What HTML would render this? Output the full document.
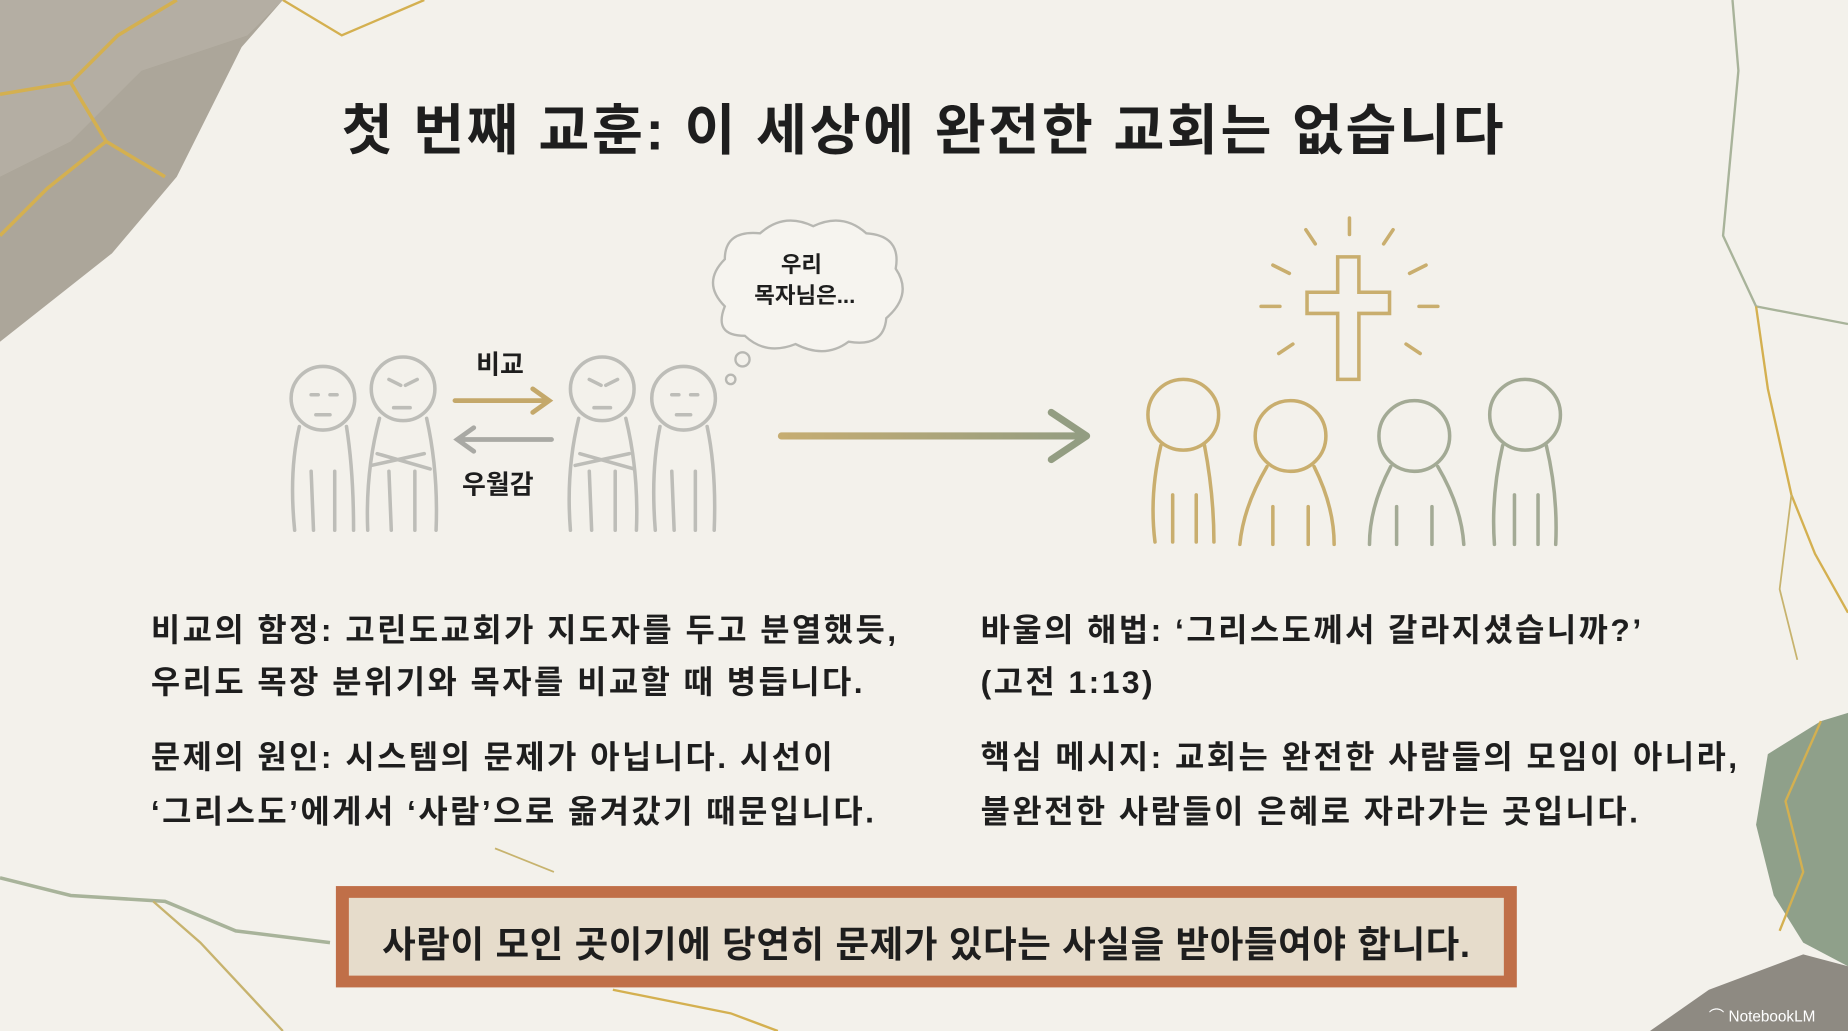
<!DOCTYPE html>
<html><head><meta charset="utf-8">
<style>
html,body{margin:0;padding:0;}
body{width:1848px;height:1031px;overflow:hidden;background:#f2f0ea;}
#s{position:absolute;left:0;top:0;width:1568px;height:875px;transform:scale(1.17857,1.17829);transform-origin:0 0;background:#f3f1eb;font-family:"Liberation Sans","Noto Sans CJK KR",sans-serif;color:#1e1e1e;}
.t{position:absolute;white-space:nowrap;}
</style></head><body>
<div id="s">
<svg width="1568" height="875" style="position:absolute;left:0;top:0">
 <polygon points="0,0 240,0 205,40 150,150 95,215 0,290" fill="#aca69a"/>
 <polygon points="0,0 240,0 210,30 120,60 60,120 0,150" fill="#b8b2a6" opacity="0.7"/>
 <path d="M0,80 L60,70 L100,30 L150,0 M60,70 L90,120 L140,150 M0,200 L40,160 L90,120" stroke="#d4b050" stroke-width="3" fill="none"/>
 <path d="M240,0 L290,30 L360,0" stroke="#d4b050" stroke-width="2" fill="none"/>
 <path d="M1470,0 L1475,60 L1462,200 L1490,260 L1568,275" stroke="#a8b39a" stroke-width="2" fill="none"/>
 <path d="M1490,260 L1500,330 L1520,420 L1540,470 L1568,520" stroke="#d4b050" stroke-width="2" fill="none"/>
 <path d="M1520,420 L1510,500 L1525,560" stroke="#c7b36e" stroke-width="1.5" fill="none"/>
 <path d="M0,745 L60,760 L140,765 L200,790 L280,800" stroke="#a8b39a" stroke-width="3" fill="none"/>
 <path d="M130,765 L170,800 L240,875" stroke="#c7b36e" stroke-width="2" fill="none"/>
 <path d="M520,840 L620,860 L660,875" stroke="#d4b050" stroke-width="2" fill="none"/>
 <path d="M420,720 L470,740" stroke="#c7b36e" stroke-width="1.5" fill="none"/>
 <polygon points="1500,640 1545,612 1568,605 1568,820 1530,800 1505,760 1490,700" fill="#8fa08a"/>
 <path d="M1545,612 L1515,680 L1530,740 L1510,790" stroke="#d4b050" stroke-width="2" fill="none"/>
 <polygon points="1400,875 1450,840 1530,810 1568,820 1568,875" fill="#8e8a82"/>
 <g stroke="#bdbdb8" stroke-width="3" fill="none" stroke-linecap="round">
  <circle cx="274" cy="338" r="27"/><path d="M254,362 Q245,400 250,450 M294,362 Q300,400 300,450 M264,400 L266,450 M284,400 L284,450"/>
  <path d="M264,335 h6 M280,335 h6 M268,352 h12"/>
  <circle cx="342" cy="330" r="27"/><path d="M322,355 Q310,400 312,450 M362,355 Q372,400 370,450 M330,400 L332,450 M352,400 L352,450 M315,395 L360,385 M320,385 L365,398"/>
  <path d="M330,322 l10,5 M354,322 l-10,5 M334,346 h14"/>
  <circle cx="511" cy="330" r="27"/><path d="M491,355 Q480,400 484,450 M531,355 Q542,400 540,450 M500,400 L502,450 M522,400 L522,450 M488,395 L534,385 M492,385 L538,398"/>
  <path d="M500,322 l10,5 M524,322 l-10,5 M504,346 h14"/>
  <circle cx="580" cy="338" r="27"/><path d="M560,362 Q552,400 556,450 M600,362 Q608,400 606,450 M570,400 L572,450 M590,400 L590,450"/>
  <path d="M570,335 h6 M586,335 h6 M574,352 h12"/>
 </g>
 <path d="M386,340 H466 M452,330 L466,340 L452,350" stroke="#c4a86a" stroke-width="4" fill="none" stroke-linecap="round"/>
 <path d="M468,373 H388 M402,363 L388,373 L402,383" stroke="#a9a9a4" stroke-width="4" fill="none" stroke-linecap="round"/>
 <path d="M615,260 Q595,240 615,220 Q615,195 645,198 Q665,180 690,192 Q715,180 735,198 Q765,200 760,228 Q775,250 752,270 Q750,295 720,290 Q700,305 675,292 Q650,302 632,285 Q605,285 615,260 Z" fill="#f6f4ef" stroke="#b7b7b2" stroke-width="2"/>
 <circle cx="630" cy="305" r="6" fill="none" stroke="#b7b7b2" stroke-width="2"/>
 <circle cx="620" cy="322" r="4" fill="none" stroke="#b7b7b2" stroke-width="2"/>
 <defs><linearGradient id="g" gradientUnits="userSpaceOnUse" x1="662" y1="0" x2="920" y2="0"><stop offset="0" stop-color="#c6ad72"/><stop offset="1" stop-color="#939d82"/></linearGradient></defs>
 <rect x="660" y="367" width="258" height="6" rx="3" fill="url(#g)"/>
 <path d="M892,350 L922,370 L892,390" stroke="#939d82" stroke-width="6" fill="none" stroke-linecap="round" stroke-linejoin="round"/>
 <g stroke="#c9ae6e" stroke-width="3" fill="none" stroke-linecap="round">
  <path d="M1135,218 h18 v30 h26 v18 h-26 v56 h-18 v-56 h-26 v-18 h26 z"/>
  <path d="M1145,185 v14 M1108,195 l8,12 M1182,195 l-8,12 M1080,225 l14,7 M1210,225 l-14,7 M1070,260 h16 M1204,260 h16 M1085,300 l12,-8 M1205,300 l-12,-8"/>
 </g>
 <g fill="none" stroke-width="3" stroke-linecap="round">
  <g stroke="#c9ae6e"><circle cx="1004" cy="352" r="30"/><path d="M985,378 Q975,420 980,460 M1022,378 Q1030,420 1030,460 M995,420 v40 M1015,420 v40"/>
   <circle cx="1095" cy="370" r="30"/><path d="M1075,396 Q1055,430 1052,462 M1115,396 Q1132,430 1132,462 M1080,430 v32 M1110,430 v32"/></g>
  <g stroke="#a3aa95"><circle cx="1200" cy="370" r="30"/><path d="M1180,396 Q1162,430 1162,462 M1220,396 Q1240,430 1242,462 M1185,430 v32 M1215,430 v32"/>
   <circle cx="1294" cy="352" r="30"/><path d="M1275,378 Q1265,420 1268,462 M1312,378 Q1322,420 1320,462 M1285,420 v42 M1305,420 v42"/></g>
 </g>
 <rect x="285" y="752" width="1002" height="86" fill="#c06f48"/>
 <rect x="296" y="762" width="980" height="66" fill="#e6dccb"/>
</svg>
<div class="t" style="left:0;width:1568px;text-align:center;top:72px;font-size:47px;font-weight:bold;letter-spacing:2.2px;">첫 번째 교훈: 이 세상에 완전한 교회는 없습니다</div>
<div class="t" style="left:640px;width:80px;text-align:center;top:213px;font-size:19px;line-height:26px;font-weight:bold;">우리<br>목자님은...</div>
<div class="t" style="left:404px;top:292px;font-size:22px;font-weight:bold;">비교</div>
<div class="t" style="left:392px;top:394px;font-size:22px;font-weight:bold;">우월감</div>
<div class="t" style="left:128px;top:513px;font-size:27px;line-height:44px;font-weight:bold;letter-spacing:2.1px;">비교의 함정: 고린도교회가 지도자를 두고 분열했듯,<br>우리도 목장 분위기와 목자를 비교할 때 병듭니다.</div>
<div class="t" style="left:128px;top:620px;font-size:27px;line-height:46px;font-weight:bold;letter-spacing:2.1px;">문제의 원인: 시스템의 문제가 아닙니다. 시선이<br>‘그리스도’에게서 ‘사람’으로 옮겨갔기 때문입니다.</div>
<div class="t" style="left:832px;top:513px;font-size:27px;line-height:44px;font-weight:bold;letter-spacing:2.1px;">바울의 해법: ‘그리스도께서 갈라지셨습니까?’<br>(고전 1:13)</div>
<div class="t" style="left:832px;top:620px;font-size:27px;line-height:46px;font-weight:bold;letter-spacing:2.1px;">핵심 메시지: 교회는 완전한 사람들의 모임이 아니라,<br>불완전한 사람들이 은혜로 자라가는 곳입니다.</div>
<div class="t" style="left:285px;width:1002px;text-align:center;top:776px;font-size:31px;font-weight:bold;letter-spacing:0.5px;">사람이 모인 곳이기에 당연히 문제가 있다는 사실을 받아들여야 합니다.</div>
<div class="t" style="left:1450px;top:852px;font-size:13px;color:#fff;">⌒ NotebookLM</div>
</div>
</body></html>
